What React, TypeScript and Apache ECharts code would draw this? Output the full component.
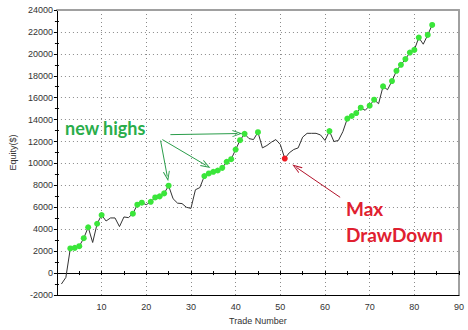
import React, { useEffect, useRef } from "react";
import * as echarts from "echarts";

// Equity after each trade (trade numbers 1..84)
const equity: number[] = [
  -1000, -400, 2250, 2300, 2450, 3180, 4180, 2790, 4500, 5300,
  4750, 5030, 5030, 4240, 5120, 5060, 5420, 6240, 6420, 6240,
  6500, 6900, 7000, 7270, 7970, 6780, 6380, 6340, 6000, 5900,
  7600, 7800, 8850, 9090, 9240, 9360, 9600, 10150, 10390, 11270,
  12120, 12700, 12270, 12180, 12850, 11420, 11640, 11940, 12180, 11730,
  10450, 10970, 11270, 11420, 12400, 12750, 12750, 12750, 12600, 12100,
  12950, 12000, 12100, 12900, 14090, 14330, 14600, 15090, 14850, 15270,
  15820, 15450, 17030, 16730, 17520, 18450, 19000, 19520, 20120, 20360,
  21480, 20880, 21730, 22640,
];
const firstTrade = 1;
const startingPeak = 0;

const xTickLabels = [10, 20, 30, 40, 50, 60, 70, 80, 90];
const yTickLabels = [-2000, 0, 2000, 4000, 6000, 8000, 10000, 12000, 14000, 16000, 18000, 20000, 22000, 24000];

// Annotation arrows in data space: [fromTrade, fromEquity, toTrade, toEquity]
const highArrows: number[][] = [
  [23.2, 12090, 24.7, 8820],
  [23.6, 12180, 33.4, 9820],
  [25.4, 12630, 40.4, 12730],
];
const drawDownArrow: number[] = [63.4, 6910, 53.6, 9640];

const arrowHead = "path://M0,10 L5,0 L10,10 L8.6,10 L5,2.8 L1.4,10 Z";

export default function App() {
  const ref = useRef<HTMLDivElement>(null);

  useEffect(() => {
    if (!ref.current) return;
    const chart = echarts.init(ref.current, undefined, { renderer: "svg" });

    // new highs & max drawdown from the data
    let peak = startingPeak;
    const isHigh: boolean[] = [];
    let bestDD = 0;
    let ddIdx = -1;
    equity.forEach((v, i) => {
      if (v > peak) {
        peak = v;
        isHigh.push(true);
      } else {
        isHigh.push(false);
        if (peak - v > bestDD) {
          bestDD = peak - v;
          ddIdx = i;
        }
      }
    });

    const data = equity.map((v, i) => {
      const hi = isHigh[i];
      const dd = i === ddIdx;
      return {
        value: [i + firstTrade, v],
        symbol: hi || dd ? "circle" : "none",
        symbolSize: 6,
        itemStyle: { color: dd ? "#ee1c24" : "#3ae63a", borderWidth: 0 },
      };
    });

    const labelStyle = {
      fontFamily: "Liberation Sans",
      fontSize: 9,
      color: "#333",
    };
    const dotted = { type: [1, 3] as any, color: "#8a8a8a", width: 1 };

    const markData: any[] = highArrows.map((a) => [
      { coord: [a[0], a[1]], lineStyle: { color: "#2a9d4a", width: 1, type: "solid" } },
      { coord: [a[2], a[3]] },
    ]);
    markData.push([
      {
        coord: [drawDownArrow[0], drawDownArrow[1]],
        lineStyle: { color: "#b3122a", width: 1, type: "solid" },
      },
      { coord: [drawDownArrow[2], drawDownArrow[3]] },
    ]);

    chart.setOption({
      animation: false,
      grid: { left: 46, right: 9, top: 10, bottom: 34, containLabel: false },
      xAxis: [
        {
          type: "value",
          min: 0,
          max: 90,
          interval: 10,
          position: "bottom",
          axisLine: { onZero: false, lineStyle: { color: "#000", width: 1 } },
          axisTick: { show: false },
          axisLabel: {
            ...labelStyle,
            margin: 7,
            showMinLabel: false,
            formatter: (v: number) => (xTickLabels.includes(v) ? String(v) : ""),
          },
          splitLine: { show: true, lineStyle: dotted },
          name: "Trade Number",
          nameLocation: "middle",
          nameGap: 21,
          nameTextStyle: { ...labelStyle },
        },
        {
          type: "value",
          min: 0,
          max: 90,
          interval: 5,
          position: "bottom",
          axisLine: { onZero: true, lineStyle: { color: "#000", width: 1 } },
          axisTick: { show: true, inside: true, length: 2, lineStyle: { color: "#000" } },
          axisLabel: { show: false },
          splitLine: { show: false },
        },
        {
          type: "value",
          min: 0,
          max: 90,
          interval: 5,
          position: "bottom",
          axisLine: { onZero: true, show: false },
          axisTick: { show: true, inside: false, length: 2, lineStyle: { color: "#000" } },
          axisLabel: { show: false },
          splitLine: { show: false },
        },
        {
          type: "value",
          min: 0,
          max: 90,
          position: "top",
          axisLine: { onZero: false, lineStyle: { color: "#a0a0a0", width: 2 } },
          axisTick: { show: false },
          axisLabel: { show: false },
          splitLine: { show: false },
        },
      ],
      yAxis: [
        {
          type: "value",
          min: -2000,
          max: 24000,
          interval: 2000,
          position: "left",
          axisLine: { show: true, onZero: false, lineStyle: { color: "#000" } },
          axisTick: { show: true, length: 3, lineStyle: { color: "#000" } },
          minorTick: { show: true, splitNumber: 2, length: 2, lineStyle: { color: "#000" } },
          axisLabel: {
            ...labelStyle,
            margin: 4,
            formatter: (v: number) => (yTickLabels.includes(v) ? String(v) : ""),
          },
          splitLine: { show: true, lineStyle: dotted },
          name: "Equity($)",
          nameLocation: "middle",
          nameRotate: 90,
          nameGap: 31,
          nameTextStyle: { ...labelStyle },
        },
        {
          type: "value",
          min: -2000,
          max: 24000,
          interval: 2000,
          position: "left",
          axisLine: { show: false, onZero: false },
          axisTick: { show: false, inside: true },
          minorTick: { show: true, splitNumber: 2, length: 2, lineStyle: { color: "#000" } },
          axisLabel: { show: false },
          splitLine: { show: false },
        },
        {
          type: "value",
          min: -2000,
          max: 24000,
          position: "right",
          axisLine: { show: true, onZero: false, lineStyle: { color: "#a0a0a0", width: 2 } },
          axisTick: { show: false },
          axisLabel: { show: false },
          splitLine: { show: false },
        },
      ],
      series: [
        {
          type: "line",
          xAxisIndex: 0,
          yAxisIndex: 0,
          data,
          showAllSymbol: true,
          lineStyle: { color: "#333", width: 1 },
          itemStyle: { color: "#3ae63a" },
          z: 3,
          markLine: {
            silent: true,
            symbol: ["none", arrowHead],
            symbolSize: [7, 10],
            label: { show: false },
            emphasis: { disabled: true },
            data: markData,
          },
        },
      ],
      graphic: [
        {
          type: "text",
          left: 65,
          top: 119,
          style: { text: "new highs", font: "bold 18px Lato", fill: "#2aad4a" },
          z: 10,
        },
        {
          type: "text",
          left: 346,
          top: 199,
          style: { text: "Max", font: "bold 19px Lato", fill: "#e0202f" },
          z: 10,
        },
        {
          type: "text",
          left: 346,
          top: 225,
          style: { text: "DrawDown", font: "bold 19px Lato", fill: "#e0202f" },
          z: 10,
        },
      ],
    });

    return () => chart.dispose();
  }, []);

  return <div ref={ref} style={{ width: 468, height: 330, position: "absolute", left: 0, top: 0 }} />;
}
